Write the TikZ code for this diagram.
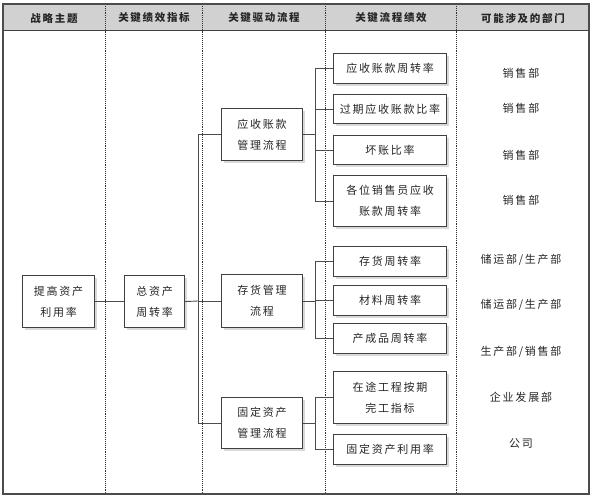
\documentclass[tikz,border=0pt]{standalone}
\usepackage{fontspec}
\newfontfamily\cjk{Noto Sans CJK SC}[LetterSpace=16]
\begin{document}
\begin{tikzpicture}[x=1pt,y=-1pt,
  every node/.style={font=\cjk\fontsize{11}{21}\selectfont, text=black!85},
  box/.style={draw=black!75, line width=1.1pt, fill=white, align=center, inner sep=0pt, anchor=north west},
  shadowbox/.style={fill=black!15, draw=none},
  conn/.style={draw=black!70, line width=0.9pt},
  divider/.style={draw=black!80, line width=0.9pt, densely dotted},
  hdr/.style={font=\cjk\bfseries\fontsize{10.5}{12}\selectfont, text=black!85},
  dept/.style={font=\cjk\fontsize{11}{12}\selectfont}]
\useasboundingbox (0,0) rectangle (594,500);
\fill[white] (0,0) rectangle (594,500);
% header band
\fill[black!18] (3,4) rectangle (589,31);
\draw[black!75, line width=1pt] (3,31) -- (589,31);
% dividers
\foreach \xx in {105,202,325,456} \draw[divider] (\xx,4) -- (\xx,494);
% frame
\draw[black!70, line width=1.5pt] (3,4) rectangle (589,494);
% header texts
\node[hdr] (h1) at (54,18) {战略主题};
\node[hdr] (h2) at (154,18) {关键绩效指标};
\node[hdr] (h3) at (264,18) {关键驱动流程};
\node[hdr] (h4) at (391,18) {关键流程绩效};
\node[hdr] (h5) at (523,18) {可能涉及的部门};
% boxes
\newcommand{\mybox}[6]{%
  \fill[shadowbox] (#2+3,#3+3) rectangle (#2+#4+3,#3+#5+3);
  \node[box, minimum width=#4pt, minimum height=#5pt] (#1) at (#2,#3) {#6};}
\mybox{a}{22}{275}{72}{52}{提高资产\\利用率}
\mybox{b}{124}{275}{60}{52}{总资产\\周转率}
\mybox{c1}{221}{108}{81}{52}{应收账款\\管理流程}
\mybox{c2}{221}{274}{81}{53}{存货管理\\流程}
\mybox{c3}{221}{397}{81}{51}{固定资产\\管理流程}
\mybox{p1}{333}{53}{113}{30}{应收账款周转率}
\mybox{p2}{333}{94}{113}{29}{过期应收账款比率}
\mybox{p3}{333}{135}{113}{29}{坏账比率}
\mybox{p4}{333}{175}{113}{51}{各位销售员应收\\账款周转率}
\mybox{p5}{333}{246}{113}{30}{存货周转率}
\mybox{p6}{333}{285}{113}{30}{材料周转率}
\mybox{p7}{333}{323}{113}{30}{产成品周转率}
\mybox{p8}{333}{371}{113}{52}{在途工程按期\\完工指标}
\mybox{p9}{333}{434}{113}{30}{固定资产利用率}
% connectors
\coordinate (m) at (198,301);
\draw[conn] (a.east) -- (b.west);
\draw[conn] (b.east) -- (m);
\draw[conn] (198,0 |- c1.west) -- (198,0 |- c3.west);
\draw[conn] (198,0 |- c1.west) -- (c1.west);
\draw[conn] (198,0 |- c2.west) -- (c2.west);
\draw[conn] (198,0 |- c3.west) -- (c3.west);
% bracket 1
\draw[conn] (c1.east) -- (315,0 |- c1.east);
\draw[conn] (p1.west) -| (315,0 |- p4.west) -- (p4.west);
\draw[conn] (315,0 |- p2.west) -- (p2.west);
\draw[conn] (315,0 |- p3.west) -- (p3.west);
% bracket 2
\draw[conn] (c2.east) -- (315,0 |- c2.east);
\draw[conn] (p5.west) -| (315,0 |- p7.west) -- (p7.west);
\draw[conn] (315,0 |- p6.west) -- (p6.west);
% bracket 3
\draw[conn] (c3.east) -- (315,0 |- c3.east);
\draw[conn] (p8.west) -| (315,0 |- p9.west) -- (p9.west);
% departments
\node[dept] (d1) at (521,73) {销售部};
\node[dept] (d2) at (521,108) {销售部};
\node[dept] (d3) at (521,155) {销售部};
\node[dept] (d4) at (521,200) {销售部};
\node[dept] (d5) at (521,260) {储运部/生产部};
\node[dept] (d6) at (521,305) {储运部/生产部};
\node[dept] (d7) at (521,352) {生产部/销售部};
\node[dept] (d8) at (521,397) {企业发展部};
\node[dept] (d9) at (521,443) {公司};
\end{tikzpicture}
\end{document}
